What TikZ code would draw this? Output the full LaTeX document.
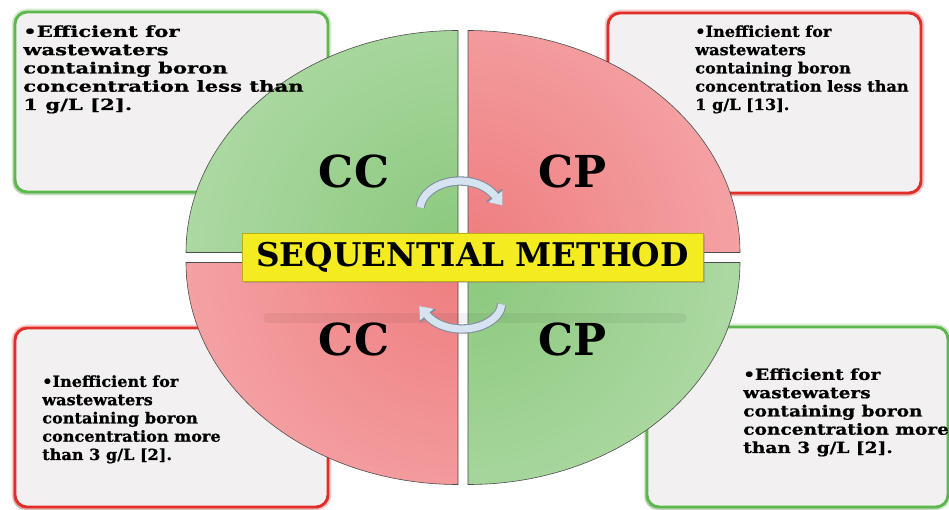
\documentclass[tikz,border=0pt]{standalone}
\usepackage{fontspec}
\newfontfamily\notewide{DejaVu Serif}[FakeStretch=1.38, BoldFeatures={FakeBold=0.8}]
\newfontfamily\notemid{DejaVu Serif}[FakeStretch=1.21, BoldFeatures={FakeBold=0.8}]
\newfontfamily\notenarrow{DejaVu Serif}[FakeStretch=1.05, BoldFeatures={FakeBold=0.8}]
\newfontfamily\headfamily{DejaVu Serif}
\usepackage{tikz}
\usetikzlibrary{arrows.meta,shadows}

\definecolor{boxgreen}{RGB}{92,184,76}
\definecolor{boxred}{RGB}{226,46,40}
\definecolor{boxfill}{RGB}{242,240,240}
\definecolor{grnlight}{RGB}{202,231,195}
\definecolor{grndark}{RGB}{138,200,124}
\definecolor{redlight}{RGB}{250,194,196}
\definecolor{reddark}{RGB}{238,124,126}
\definecolor{bannerfill}{RGB}{244,236,32}
\definecolor{banneredge}{RGB}{185,175,20}
\definecolor{turnfill}{RGB}{214,228,242}
\definecolor{turnedge}{RGB}{130,140,158}

\tikzset{
  notebox/.style={fill=boxfill, line width=2.2pt, rounded corners=9pt,
    drop shadow={shadow xshift=-1.5pt, shadow yshift=-2pt, opacity=.3},
    preaction={draw=#1, line width=5pt, opacity=.25}, draw=#1},
  note/.style={align=left, inner sep=0pt, anchor=north west,
    font=\fontsize{11.5}{13.7}\selectfont#1\bfseries},
  quarter/.style={draw=gray!60!black, line width=.45pt},
  quadlabel/.style={anchor=base, inner sep=0pt,
    font=\fontsize{33}{36}\selectfont\headfamily\bfseries},
  banner/.style={fill=bannerfill, draw=banneredge, line width=.6pt,
    minimum width=345.75pt, minimum height=36pt, inner sep=0pt,
    drop shadow={shadow xshift=1.5pt, shadow yshift=-1.5pt, opacity=.35},
    font=\fontsize{24.5}{27}\selectfont\headfamily\bfseries},
  turnback/.style={turnedge, line width=7pt,
    -{Triangle[length=10pt, width=16pt, line width=0pt]}},
  turnfront/.style={turnfill, line width=5.4pt,
    -{Triangle[length=8.5pt, width=13.6pt, line width=0pt]}}
}

\begin{document}
\begin{tikzpicture}[x=0.75pt, y=-0.75pt]
  \path[use as bounding box, fill=white] (0,0) rectangle (949,510);

  \draw[notebox=boxgreen] (15,12) rectangle (328,192);
  \draw[notebox=boxred] (608,13) rectangle (921,193);
  \draw[notebox=boxred] (15,328) rectangle (328,507);
  \draw[notebox=boxgreen] (647,327) rectangle (948,507);

  \coordinate (ctr) at (463,257.5);
  \path[quarter, path picture={\shade[inner color=grndark, outer color=grnlight]
      (ctr) circle[radius=520];}]
    (458,252.5) -- (186,252.5) arc[start angle=180, end angle=270, x radius=272, y radius=222] -- cycle;
  \path[quarter, path picture={\shade[inner color=reddark, outer color=redlight]
      (ctr) circle[radius=520];}]
    (468,252.5) -- (740,252.5) arc[start angle=0, end angle=-90, x radius=272, y radius=222] -- cycle;
  \path[quarter, path picture={\shade[inner color=reddark, outer color=redlight]
      (ctr) circle[radius=520];}]
    (458,262.5) -- (186,262.5) arc[start angle=180, end angle=90, x radius=272, y radius=222] -- cycle;
  \path[quarter, path picture={\shade[inner color=grndark, outer color=grnlight]
      (ctr) circle[radius=520];}]
    (468,262.5) -- (740,262.5) arc[start angle=0, end angle=90, x radius=272, y radius=222] -- cycle;

  \draw[black, opacity=.05, line width=7pt, line cap=round] (268,318) -- (682,318);

  \coordinate (ta) at (420.15,207.5);
  \coordinate (ba) at (501.85,304.35);
  \draw[turnback] (ta) arc[start angle=185, end angle=330, x radius=40, y radius=29] -- ++(7.8,9.8);
  \draw[turnfront] (ta) arc[start angle=185, end angle=330, x radius=40, y radius=29] -- ++(7.8,9.8);
  \draw[turnback] (ba) arc[start angle=5, end angle=150, x radius=40, y radius=27] -- ++(-8,-9.4);
  \draw[turnfront] (ba) arc[start angle=5, end angle=150, x radius=40, y radius=27] -- ++(-8,-9.4);

  \node[banner] (seq) at (472.5,257) {SEQUENTIAL METHOD};

  \node[quadlabel] (cctop) at (354,187) {CC};
  \node[quadlabel] (cptop) at (573,187) {CP};
  \node[quadlabel] (ccbot) at (354,355) {CC};
  \node[quadlabel] (cpbot) at (573,355) {CP};

  \node[note=\notewide] (eff1) at (23,25) {\textbullet Efficient for\\ wastewaters\\ containing boron\\ concentration less than\\ 1 g/L [2].};
  \node[note=\notenarrow] (ineff1) at (695,25) {\textbullet Inefficient for\\ wastewaters\\ containing boron\\ concentration less than\\ 1 g/L [13].};
  \node[note=\notenarrow] (ineff2) at (42,375) {\textbullet Inefficient for\\ wastewaters\\ containing boron\\ concentration more\\ than 3 g/L [2].};
  \node[note=\notemid] (eff2) at (743,368) {\textbullet Efficient for\\ wastewaters\\ containing boron\\ concentration more\\ than 3 g/L [2].};
\end{tikzpicture}
\end{document}
